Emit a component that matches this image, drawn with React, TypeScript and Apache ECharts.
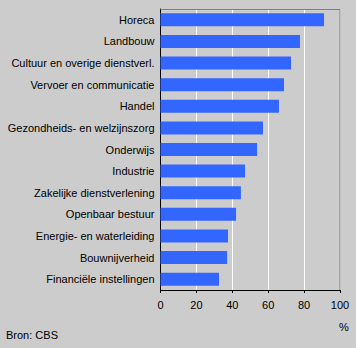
import React, { useEffect, useRef } from "react";
import * as echarts from "echarts";

const categories = [
  "Horeca",
  "Landbouw",
  "Cultuur en overige dienstverl.",
  "Vervoer en communicatie",
  "Handel",
  "Gezondheids- en welzijnszorg",
  "Onderwijs",
  "Industrie",
  "Zakelijke dienstverlening",
  "Openbaar bestuur",
  "Energie- en waterleiding",
  "Bouwnijverheid",
  "Financiële instellingen",
];
const values = [91.1, 77.7, 72.7, 68.8, 66.0, 57.1, 53.8, 47.1, 44.8, 42.1, 37.6, 37.1, 32.6];
const xTicks = [0, 20, 40, 60, 80, 100];
const unitLabel = "%";
const sourceLabel = "Bron: CBS";

const FONT = "'Liberation Sans', Arial, sans-serif";

export default function App() {
  const ref = useRef<HTMLDivElement>(null);
  useEffect(() => {
    if (!ref.current) return;
    const chart = echarts.init(ref.current, null, { renderer: "svg" });
    const gl = 160.5, gr = 340, gt = 9, gb = 290;
    chart.setOption({
      animation: false,
      backgroundColor: "#cccccc",
      textStyle: { fontFamily: FONT },
      grid: { left: gl, right: 356 - gr, top: gt, bottom: 348 - gb, containLabel: false },
      xAxis: {
        type: "value",
        min: xTicks[0],
        max: xTicks[xTicks.length - 1],
        interval: 20,
        axisLine: { show: true, lineStyle: { color: "#000", width: 1 } },
        axisTick: { show: true, length: 3, lineStyle: { color: "#000" } },
        axisLabel: { color: "#000", fontSize: 11, fontFamily: FONT, margin: 9 },
        splitLine: { show: true, lineStyle: { color: "#ffffff", width: 1 } },
      },
      yAxis: {
        type: "category",
        data: categories,
        inverse: true,
        axisLine: { show: true, lineStyle: { color: "#000", width: 1 } },
        axisTick: { show: false },
        axisLabel: { color: "#000", fontSize: 11, fontFamily: FONT, margin: 6 },
        splitLine: { show: false },
      },
      series: [
        {
          type: "bar",
          data: values,
          barWidth: 13,
          itemStyle: { color: "#3366ff" },
          silent: true,
        },
      ],
      graphic: [
        {
          type: "line",
          shape: { x1: gl, y1: gt + 0.5, x2: gr, y2: gt + 0.5 },
          style: { stroke: "#808080", lineWidth: 1 },
          z: 10,
        },
        {
          type: "line",
          shape: { x1: gr, y1: gt, x2: gr, y2: gb },
          style: { stroke: "#808080", lineWidth: 1 },
          z: 10,
        },
        {
          type: "text",
          x: 344,
          y: 326.5,
          style: { text: unitLabel, fill: "#000", font: `11px ${FONT}`, textAlign: "center", textVerticalAlign: "middle" },
        },
        {
          type: "text",
          x: 6,
          y: 335,
          style: { text: sourceLabel, fill: "#000", font: `11px ${FONT}`, textAlign: "left", textVerticalAlign: "middle" },
        },
      ],
    });
    return () => chart.dispose();
  }, []);
  return (
    <div
      ref={ref}
      style={{ position: "fixed", left: 0, top: 0, width: 356, height: 348, background: "#cccccc" }}
    />
  );
}
